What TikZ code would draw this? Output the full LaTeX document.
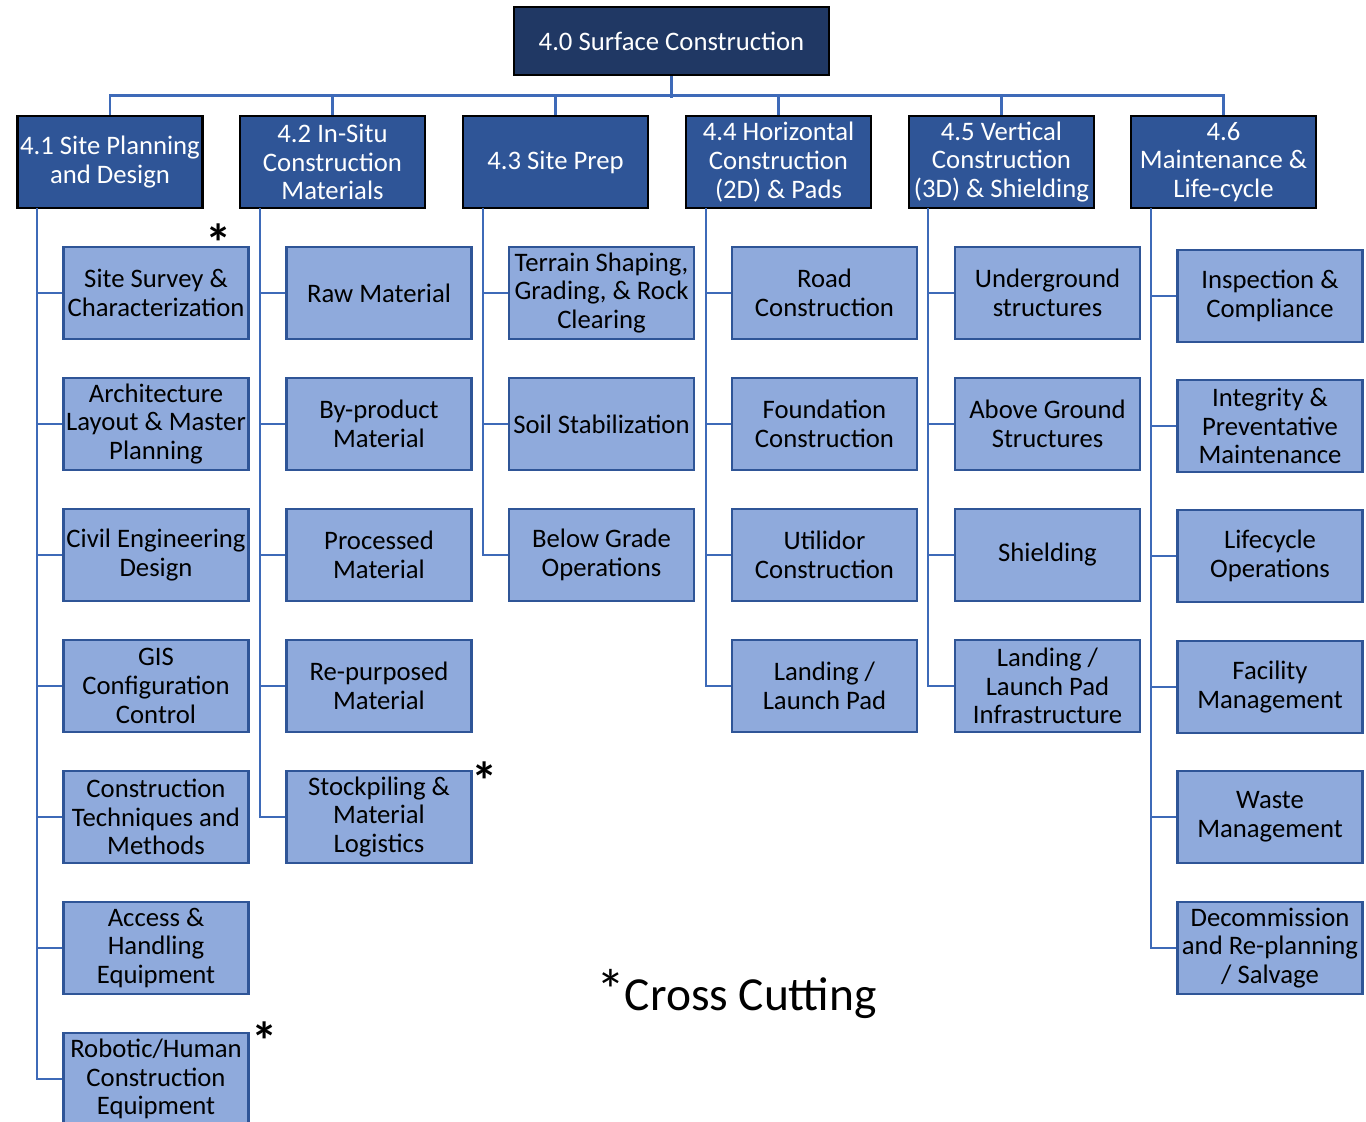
\documentclass[tikz,border=0pt]{standalone}
\usepackage{fontspec}
\setmainfont{Carlito}
\definecolor{navy}{HTML}{203864}
\definecolor{midblue}{HTML}{2F5597}
\definecolor{paleblue}{HTML}{8FAADC}
\definecolor{linkblue}{HTML}{3E6AB8}
\newcommand{\crossmark}{\raisebox{-0.45em}[0.35em][0pt]{*}}
\begin{document}
\begin{tikzpicture}[x=0.02cm, y=-0.02cm,
	top/.style={draw=black, line width=1.6pt, fill=navy, text=white, minimum width=6.3cm, minimum height=1.36cm, inner sep=1pt, align=center, font=\fontsize{15.2}{16.4}\selectfont},
	area/.style={draw=black, line width=1.6pt, fill=midblue, text=white, minimum width=3.7cm, minimum height=1.84cm, inner sep=1pt, align=center, font=\fontsize{15.2}{16.4}\selectfont},
	item/.style={draw=midblue, line width=1.2pt, fill=paleblue, text=black, minimum width=3.7cm, minimum height=1.84cm, inner sep=1pt, align=center, font=\fontsize{15.2}{16.4}\selectfont},
	link/.style={draw=linkblue, line width=1.4pt},
	star/.style={inner sep=0pt, font=\fontsize{30}{30}\selectfont\bfseries}]
	\useasboundingbox (0,0) rectangle (1366,1122);
	\clip (0,0) rectangle (1366,1122);

	% top and second level
	\node[top] (root) at (671.5,41) {4.0 Surface Construction};
	\node[area] (l1) at (110,162) {4.1 Site Planning\\and Design};
	\node[area] (l2) at (332.5,162) {4.2 In-Situ\\Construction\\Materials};
	\node[area] (l3) at (555.5,162) {4.3 Site Prep};
	\node[area] (l4) at (778.5,162) {4.4 Horizontal\\Construction\\(2D) \& Pads};
	\node[area] (l5) at (1001.5,162) {4.5 Vertical\\Construction\\(3D) \& Shielding};
	\node[area] (l6) at (1223.5,162) {4.6\\Maintenance \&\\Life-cycle};

	% column 1
	\node[item] (c1-1) at (156,293) {Site Survey \&\\Characterization};
	\node[item] (c1-2) at (156,424) {Architecture\\Layout \& Master\\Planning};
	\node[item] (c1-3) at (156,555) {Civil Engineering\\Design};
	\node[item] (c1-4) at (156,686) {GIS\\Configuration\\Control};
	\node[item] (c1-5) at (156,817) {Construction\\Techniques and\\Methods};
	\node[item] (c1-6) at (156,948) {Access \&\\Handling\\Equipment};
	\node[item] (c1-7) at (156,1079) {Robotic/Human\\Construction\\Equipment};

	% column 2
	\node[item] (c2-1) at (379,293) {Raw Material};
	\node[item] (c2-2) at (379,424) {By-product\\Material};
	\node[item] (c2-3) at (379,555) {Processed\\Material};
	\node[item] (c2-4) at (379,686) {Re-purposed\\Material};
	\node[item] (c2-5) at (379,817) {Stockpiling \&\\Material\\Logistics};

	% column 3
	\node[item] (c3-1) at (601.5,293) {Terrain Shaping,\\Grading, \& Rock\\Clearing};
	\node[item] (c3-2) at (601.5,424) {Soil Stabilization};
	\node[item] (c3-3) at (601.5,555) {Below Grade\\Operations};

	% column 4
	\node[item] (c4-1) at (824.5,293) {Road\\Construction};
	\node[item] (c4-2) at (824.5,424) {Foundation\\Construction};
	\node[item] (c4-3) at (824.5,555) {Utilidor\\Construction};
	\node[item] (c4-4) at (824.5,686) {Landing /\\Launch Pad};

	% column 5
	\node[item] (c5-1) at (1047.5,293) {Underground\\structures};
	\node[item] (c5-2) at (1047.5,424) {Above Ground\\Structures};
	\node[item] (c5-3) at (1047.5,555) {Shielding};
	\node[item] (c5-4) at (1047.5,686) {Landing /\\Launch Pad\\Infrastructure};

	% column 6
	\node[item] (c6-1) at (1270,296) {Inspection \&\\Compliance};
	\node[item] (c6-2) at (1270,426) {Integrity \&\\Preventative\\Maintenance};
	\node[item] (c6-3) at (1270,556) {Lifecycle\\Operations};
	\node[item] (c6-4) at (1270,687) {Facility\\Management};
	\node[item] (c6-5) at (1270,817) {Waste\\Management};
	\node[item] (c6-6) at (1270,948) {Decommission\\and Re-planning\\/ Salvage};

	% bus
	\draw[link] (root.south) -- ++(0,22);
	\draw[link] (l1.north) -- ++(0,-19) -| (l6.north);
	\foreach \i in {2,...,5}{
	\draw[link] (l\i.north) -- ++(0,-19);
	}

	% stems
	\coordinate (s1) at (37,208);
	\coordinate (s2) at (260,208);
	\coordinate (s3) at (483,208);
	\coordinate (s4) at (706,208);
	\coordinate (s5) at (928,208);
	\coordinate (s6) at (1151,208);
	\foreach \c/\n in {1/7,2/5,3/3,4/4,5/4,6/6}{
	\foreach \r in {1,...,\n}{
	\draw[link] (s\c) |- (c\c-\r.west);
	}
	}

	% cross cutting marks
	\node[star] (m1) at (219,229) {\crossmark};
	\node[star] (m2) at (485,767) {\crossmark};
	\node[star] (m3) at (265,1027) {\crossmark};
	\node[anchor=base, inner sep=0pt, font=\fontsize{27}{27}\selectfont] (note) at (736.5,1010) {{\fontsize{33}{33}\selectfont *}Cross Cutting};
\end{tikzpicture}
\end{document}
